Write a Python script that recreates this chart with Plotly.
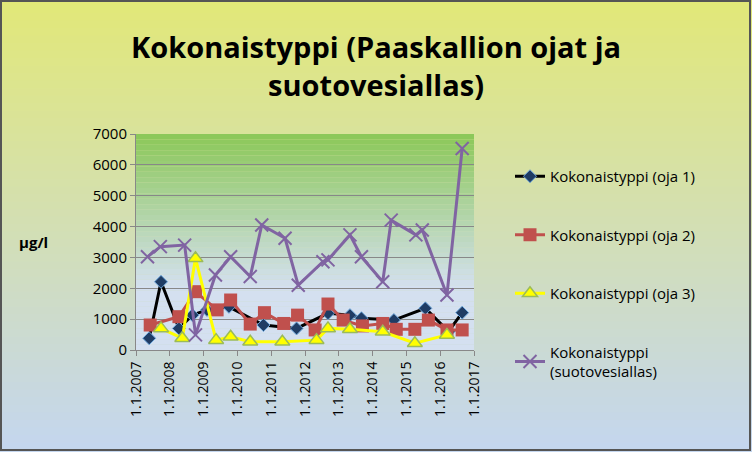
import plotly.graph_objects as go

oja1_x = [2007.39, 2007.74, 2008.27, 2008.67, 2009.10, 2009.75, 2010.77, 2011.75, 2012.68, 2013.33, 2013.67, 2014.63, 2015.56, 2016.25, 2016.65]
oja1_y = [380, 2210, 700, 1130, 1300, 1400, 810, 700, 1190, 1130, 1030, 970, 1350, 600, 1210]
oja2_x = [2007.42, 2008.27, 2008.76, 2009.40, 2009.80, 2010.38, 2010.80, 2011.37, 2011.78, 2012.30, 2012.68, 2013.13, 2013.70, 2014.30, 2014.70, 2015.25, 2015.65, 2016.20, 2016.65]
oja2_y = [810, 1080, 1890, 1300, 1620, 840, 1210, 860, 1130, 650, 1490, 970, 780, 860, 670, 670, 970, 650, 650]
oja3_x = [2007.74, 2008.37, 2008.76, 2009.37, 2009.80, 2010.38, 2011.33, 2012.34, 2012.68, 2013.33, 2014.30, 2015.25, 2016.20]
oja3_y = [700, 380, 2970, 320, 430, 270, 270, 320, 700, 670, 590, 220, 490]
suo_x = [2007.34, 2007.72, 2008.44, 2008.76, 2009.35, 2009.80, 2010.38, 2010.72, 2011.41, 2011.80, 2012.53, 2012.68, 2013.33, 2013.67, 2014.30, 2014.55, 2015.28, 2015.47, 2016.20, 2016.65]
suo_y = [3020, 3350, 3400, 490, 2430, 3020, 2380, 4050, 3620, 2100, 2860, 2920, 3730, 3020, 2210, 4210, 3730, 3890, 1780, 6530]
years = list(range(2007, 2018))
tick_text = [f"1.1.{y}" for y in years]

fig = go.Figure()
fig.add_trace(go.Scatter(x=oja1_x, y=oja1_y, name="Kokonaistyppi (oja 1)", mode="lines+markers", legendgroup="a",
    line=dict(color="black", width=3), marker=dict(symbol="diamond", size=10, color="#1f3c64", line=dict(color="#6fa8dc", width=1))))
fig.add_trace(go.Scatter(x=oja2_x, y=oja2_y, name="Kokonaistyppi (oja 2)", mode="lines+markers", legendgroup="b",
    line=dict(color="#c0504d", width=3), marker=dict(symbol="square", size=13, color="#c0504d")))
fig.add_trace(go.Scatter(x=oja3_x, y=oja3_y, name="Kokonaistyppi (oja 3)", mode="lines+markers", legendgroup="c",
    line=dict(color="#ffff00", width=3), marker=dict(symbol="triangle-up", size=13, color="#ffff00", line=dict(color="#9bbb59", width=1.5))))
fig.add_trace(go.Scatter(x=suo_x, y=suo_y, name="Kokonaistyppi<br>(suotovesiallas)", mode="lines+markers", legendgroup="d",
    line=dict(color="#8064a2", width=3), marker=dict(symbol="x-thin", size=13, line=dict(color="#8064a2", width=2))))

def lerp(c1, c2, t):
    return "rgb(%d,%d,%d)" % tuple(round(a + (b - a) * t) for a, b in zip(c1, c2))

shapes = []
N = 60
top, bot = (226, 232, 120), (196, 214, 238)
y_top, y_bot = 1 + 134 / 216, -102 / 216
for i in range(N):
    shapes.append(dict(type="rect", xref="paper", yref="paper", layer="below", line=dict(width=0),
        x0=-1, x1=2, y0=y_top - (i + 1) * (y_top - y_bot) / N - 0.01, y1=y_top - i * (y_top - y_bot) / N + 0.01,
        fillcolor=lerp(top, bot, i / (N - 1))))
ptop, pbot = (140, 200, 90), (212, 224, 240)
M = 40
for i in range(M):
    t = i / (M - 1)
    c = lerp(ptop, pbot, min(1, t * 1.4))
    shapes.append(dict(type="rect", xref="paper", yref="paper", layer="below", line=dict(width=0),
        x0=0, x1=1, y0=1 - (i + 1) / M, y1=1 - i / M, fillcolor=c))
shapes.append(dict(type="rect", xref="paper", yref="paper", x0=-135 / 338, x1=1 + 276 / 338,
    y0=y_bot + 2 / 216, y1=y_top - 1 / 216, line=dict(color="#555", width=2), layer="above"))

fig.update_layout(
    width=752, height=452, margin=dict(l=136, r=278, t=134, b=102, autoexpand=False),
    paper_bgcolor="#dfe6b0", plot_bgcolor="rgba(0,0,0,0)", shapes=shapes,
    font=dict(family="Open Sans", color="black"),
    xaxis=dict(range=[2007, 2017], tickvals=years, ticktext=tick_text, tickangle=-90, showgrid=False,
               showline=True, linecolor="#888", ticks="outside", tickcolor="#888", tickfont=dict(size=14), automargin=False),
    yaxis=dict(range=[0, 7000], dtick=1000, showgrid=True, gridcolor="#888", showline=True, linecolor="#888",
               ticks="outside", tickcolor="#888", tickfont=dict(size=15), zeroline=False, tickformat="d", automargin=False),
    annotations=[
        dict(text="<b>µg/l</b>", xref="paper", yref="paper", x=-86 / 338, y=0.5, showarrow=False,
             xanchor="right", font=dict(size=15)),
        dict(text="<b>Kokonaistyppi (Paaskallion ojat ja<br>suotovesiallas)</b>", xref="paper", yref="paper",
             x=(376 - 136) / 338, y=1 + (134 - 66) / 216, showarrow=False, xanchor="center", yanchor="middle",
             font=dict(size=29)),
    ],
    legend=dict(x=1 + 36 / 338, y=1 - 26 / 216, xanchor="left", yanchor="top", bgcolor="rgba(0,0,0,0)",
                font=dict(size=15), tracegroupgap=36, maxheight=400),
)
fig.write_html("out.html", config={"displayModeBar": False},
               post_script="document.body.style.margin='0';document.body.style.overflow='hidden';")
